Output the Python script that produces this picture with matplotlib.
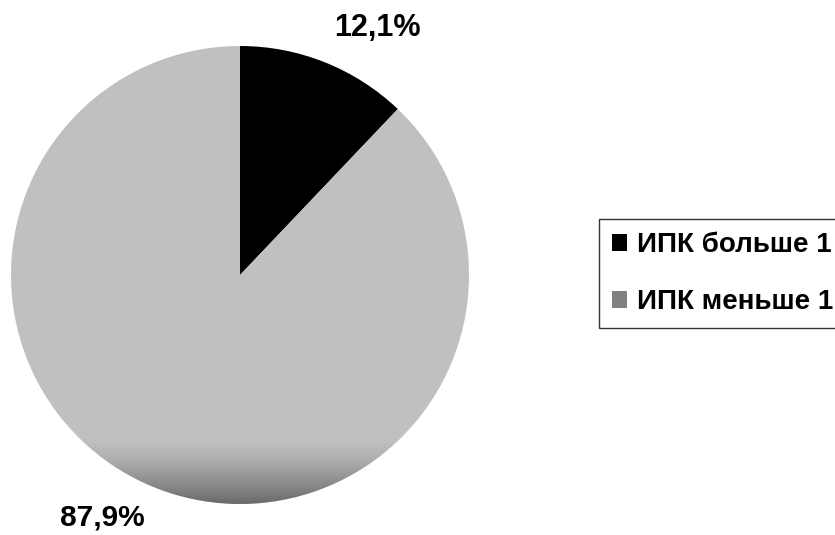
import matplotlib.pyplot as plt
import numpy as np
from matplotlib.patches import Patch

labels = ["ИПК больше 1", "ИПК меньше 1"]
shares = [12.1, 87.9]
pct_text = ["12,1%", "87,9%"]
pie_colors = ["#000000", "#c0c0c0"]
legend_colors = ["#000000", "#808080"]

plt.rcParams['font.family'] = ['Liberation Sans', 'DejaVu Sans']

W, H = 835, 535
fig = plt.figure(figsize=(W / 100, H / 100), dpi=100, facecolor='white')

# pie centre and radius in pixels
cx, cy, r = 240, 275, 229
ax = fig.add_axes([(cx - r) / W, (H - cy - r) / H, 2 * r / W, 2 * r / H])

wedges, _ = ax.pie(shares, colors=pie_colors, startangle=90, counterclock=False,
                   radius=1, wedgeprops=dict(linewidth=0))

# darker shading toward the bottom rim
ys = np.linspace(1, -1, 400)
t = np.clip((-0.72 - ys) / 0.28, 0, 1) ** 1.3
shade = np.zeros((400, 1, 4))
shade[:, 0, 3] = t * 0.45
img = ax.imshow(shade, extent=(-1, 1, -1, 1), aspect='auto', zorder=3,
                interpolation='bilinear')
img.set_clip_path(wedges[1])

ax.set_xlim(-1, 1)
ax.set_ylim(-1, 1)
ax.set_aspect('equal')
ax.axis('off')

# percentage labels
fig.text(377 / W, 1 - 28 / H, pct_text[0], fontsize=22, fontweight='bold',
         ha='center', va='center')
fig.text(102 / W, 1 - 518 / H, pct_text[1], fontsize=21.5, fontweight='bold',
         ha='center', va='center')

handles = [Patch(facecolor=c, edgecolor='none') for c in legend_colors]
leg = fig.legend(handles, labels, loc='upper left',
                 bbox_to_anchor=(599 / W, 1 - 219 / H), frameon=True,
                 fancybox=False, edgecolor='black',
                 prop=dict(weight='bold', size=20), handlelength=0.55,
                 handleheight=0.55, handletextpad=0.36, labelspacing=1.12,
                 borderpad=0.47, borderaxespad=0)
leg.get_frame().set_linewidth(1.0)

fig.savefig('out.png', dpi=100, facecolor='white')
